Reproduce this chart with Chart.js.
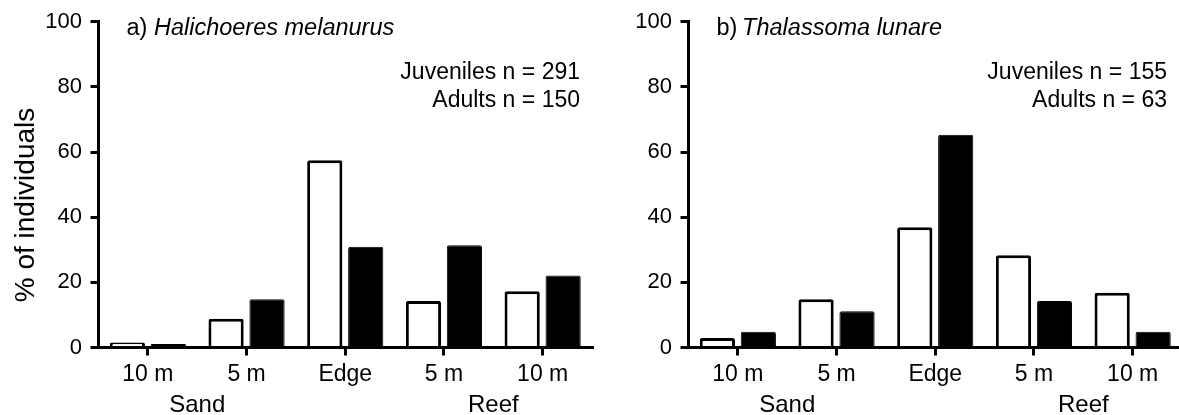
<!DOCTYPE html>
<html>
<head>
<meta charset="utf-8">
<script src="https://cdn.jsdelivr.net/npm/chart.js@4.4.1/dist/chart.umd.min.js"></script>
<style>
  html, body { margin: 0; padding: 0; background: #fff; overflow: hidden; width: 1179px; height: 415px; }
  canvas { position: absolute; top: 0; }
  #chartA { left: 0; z-index: 2; }
  #chartB { left: 590px; z-index: 1; }
</style>
</head>
<body>
<canvas id="chartA" width="594" height="415"></canvas>
<canvas id="chartB" width="594" height="415"></canvas>
<script>
// ---- datos ----
const sites = ['10 m', '5 m', 'Edge', '5 m', '10 m'];
const groupLabels = ['Sand', 'Reef'];
const groupSpans = [[0, 1], [3, 4]];   // categorías que abarca cada grupo

// a) Halichoeres melanurus
const juvA   = [1.5, 8.8, 57.5, 14.3, 17.3];
const adultA = [1.1, 14.8, 30.9, 31.4, 22.1];
const nLinesA = ['Juveniles n = 291', 'Adults n = 150'];

// b) Thalassoma lunare
const juvB   = [2.9, 14.8, 36.9, 28.3, 16.8];
const adultB = [4.8, 11.1, 65.3, 14.3, 4.8];
const nLinesB = ['Juveniles n = 155', 'Adults n = 63'];

const yMin = 0, yMax = 100, yStep = 20;

const FONT = '"Liberation Sans", Arial, Helvetica, sans-serif';

// textos del panel: título, n, grupos y título del eje y
const panelText = {
  id: 'panelText',
  afterDraw(chart, args, opts) {
    const ctx = chart.ctx;
    const xs = chart.scales.x;
    const left = chart.chartArea.left;
    ctx.save();
    ctx.fillStyle = '#000';
    ctx.textBaseline = 'alphabetic';

    ctx.textAlign = 'left';
    ctx.font = '23.5px ' + FONT;
    ctx.fillText(opts.tag, left + 28, 35);
    const w = ctx.measureText(opts.tag).width;
    ctx.font = 'italic 23.5px ' + FONT;
    ctx.fillText(opts.species, left + 28 + w, 35);

    ctx.font = '23px ' + FONT;
    ctx.textAlign = 'right';
    opts.nLines.forEach((t, i) => ctx.fillText(t, opts.nRight, 78.5 + i * 28.3));

    ctx.textAlign = 'center';
    ctx.font = '24px ' + FONT;
    groupLabels.forEach((g, i) => {
      const [a, b] = groupSpans[i];
      const cx = (xs.getPixelForValue(a) + xs.getPixelForValue(b)) / 2;
      ctx.fillText(g, cx, 411.5);
    });

    if (opts.yTitle) {
      ctx.translate(33.5, 205);
      ctx.rotate(-Math.PI / 2);
      ctx.font = '28px ' + FONT;
      ctx.fillText(opts.yTitle, 0, 0);
    }
    ctx.restore();
  }
};

function makeChart(id, juv, adult, text) {
  return new Chart(document.getElementById(id), {
    type: 'bar',
    data: {
      labels: sites,
      datasets: [
        {
          label: 'Juveniles',
          data: juv,
          backgroundColor: '#fff',
          borderColor: '#000',
          borderWidth: 3,
          borderRadius: { topLeft: 2, topRight: 2 },
          categoryPercentage: 0.83,
          barPercentage: 0.86
        },
        {
          label: 'Adults',
          data: adult,
          backgroundColor: '#000',
          borderColor: '#000',
          borderWidth: 1,
          borderRadius: { topLeft: 2, topRight: 2 },
          categoryPercentage: 0.83,
          barPercentage: 0.86
        }
      ]
    },
    options: {
      responsive: false,
      animation: false,
      layout: { padding: { top: 20, right: 2, bottom: 0, left: 0 } },
      plugins: {
        legend: { display: false },
        tooltip: { enabled: false },
        panelText: text
      },
      scales: {
        x: {
          offset: true,
          grid: { offset: false, drawOnChartArea: false, drawTicks: true, tickLength: 8, color: '#000', lineWidth: 3 },
          border: { display: true, color: '#000', width: 3 },
          ticks: { color: '#000', font: { family: FONT, size: 23 }, padding: 5, maxRotation: 0, autoSkip: false },
          afterFit: s => { s.height = 67.5; }
        },
        y: {
          min: yMin,
          max: yMax,
          grid: { drawOnChartArea: false, drawTicks: true, tickLength: 8, color: '#000', lineWidth: 3 },
          border: { display: true, color: '#000', width: 3 },
          ticks: { stepSize: yStep, color: '#000', font: { family: FONT, size: 22 }, padding: 8.5 },
          afterFit: s => { s.width = 98.5; }
        }
      }
    },
    plugins: [panelText]
  });
}

makeChart('chartA', juvA, adultA, {
  tag: 'a) ', species: 'Halichoeres melanurus', nLines: nLinesA, nRight: 580, yTitle: '% of individuals'
});
makeChart('chartB', juvB, adultB, {
  tag: 'b)\u2009', species: 'Thalassoma lunare', nLines: nLinesB, nRight: 577, yTitle: null
});
</script>
</body>
</html>
